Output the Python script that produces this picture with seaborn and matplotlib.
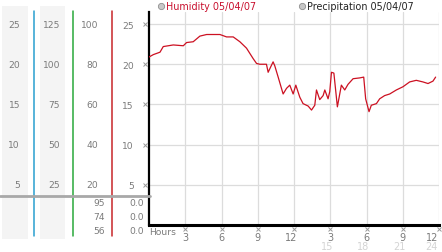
import matplotlib
matplotlib.use("Agg")
import matplotlib.pyplot as plt
from matplotlib.patches import Rectangle
from matplotlib.lines import Line2D
from matplotlib.transforms import ScaledTranslation
import seaborn as sns
import pandas as pd

# ---------------- data ----------------
hours = [0.0, 0.36, 0.91, 1.18, 2.01, 2.84, 3.11, 3.66, 4.21, 4.77, 5.87, 6.42, 6.97,
         7.52, 8.07, 8.62, 8.9, 9.17, 9.72, 9.86, 10.27, 10.41, 10.69, 11.1, 11.38,
         11.65, 11.93, 12.15, 12.48, 12.75, 13.17, 13.45, 13.72, 13.86, 14.13, 14.41,
         14.55, 14.82, 14.96, 15.1, 15.3, 15.59, 15.92, 16.2, 16.47, 16.89, 17.44,
         17.77, 17.93, 18.21, 18.4, 18.82, 19.09, 19.5, 19.92, 20.47, 21.02, 21.57,
         22.12, 22.67, 23.09, 23.5, 23.72]
humidity = [20.9, 21.2, 21.5, 22.2, 22.4, 22.3, 22.7, 22.8, 23.5, 23.7, 23.7, 23.4, 23.4,
            22.8, 22.0, 20.7, 20.1, 20.0, 20.0, 19.0, 20.3, 19.8, 18.4, 16.3, 17.0,
            17.4, 16.3, 17.4, 15.9, 15.1, 14.8, 14.3, 14.9, 16.8, 15.6, 16.1,
            16.8, 15.7, 16.6, 19.0, 18.9, 14.7, 17.4, 16.8, 17.5, 18.2, 18.3,
            18.4, 15.7, 14.1, 14.9, 15.1, 15.7, 16.1, 16.3, 16.8, 17.2, 17.8,
            18.0, 17.8, 17.6, 17.9, 18.4]

y_ticks = [5, 10, 15, 20, 25]
col1_labels = ["5", "10", "15", "20", "25"]
col2_labels = ["25", "50", "75", "100", "125"]
col3_labels = ["20", "40", "60", "80", "100"]
col4_labels = ["5", "10", "15", "20", "25"]
x_ticks = [3, 6, 9, 12, 15, 18, 21, 24]
x_labels = ["3", "6", "9", "12", "3", "6", "9", "12"]
x_labels2 = ["", "", "", "", "15", "18", "21", "24"]
stats_left = ["95", "74", "56"]
stats_right = ["0.0", "0.0", "0.0"]
legend_items = ["Humidity 05/04/07", "Precipitation 05/04/07"]

# ---------------- style ----------------
sns.set_style("white")
plt.rcParams['font.family'] = ['DejaVu Sans']
W, H = 442, 253
LBL = "#7a7a7a"
FS = 6.6

def fx(px):
    return px / W

def fy(py):
    return 1 - py / H

fig = plt.figure(figsize=(W / 100, H / 100), dpi=100)
fig.patch.set_facecolor("white")

ax_left, ax_right, ax_top, ax_bot = 149, 439, 13, 226
ax = fig.add_axes([fx(ax_left), fy(ax_bot), (ax_right - ax_left) / W, (ax_bot - ax_top) / H])
ax.set_facecolor("white")
ax.set_zorder(1)

def axx(px):
    return (px - ax_left) / (ax_right - ax_left)

# left gray columns and coloured separators
for x0, x1 in [(2, 28), (40, 65)]:
    fig.patches.append(Rectangle((fx(x0), fy(240)), (x1 - x0) / W, (240 - 7) / H,
                                 transform=fig.transFigure, facecolor="#f4f4f4",
                                 edgecolor="none", zorder=-2))
for xp, c in [(33.5, "#2a9fd0"), (72.5, "#2aa83a"), (111.5, "#c8262a")]:
    fig.lines.append(Line2D([fx(xp), fx(xp)], [fy(12), fy(237)], transform=fig.transFigure,
                            color=c, lw=1.1, zorder=-1))
fig.lines.append(Line2D([fx(0), fx(150)], [fy(197), fy(197)], transform=fig.transFigure,
                        color="#a8a8a8", lw=2.0, zorder=2))

# main chart
for v in y_ticks:
    ax.axhline(v, color="#dcdcdc", lw=0.9, zorder=0)
for h in x_ticks:
    ax.axvline(h, color="#dcdcdc", lw=0.9, zorder=0)

df = pd.DataFrame({"Hours": hours, "Humidity": humidity})
sns.lineplot(data=df, x="Hours", y="Humidity", ax=ax, color="#cc1122", lw=0.9, zorder=3)

ax.set_xlim(0, 24)
ax.set_ylim(0, 26.5)
ax.set_xlabel("")
ax.set_ylabel("")
for s in ["top", "right"]:
    ax.spines[s].set_visible(False)
ax.spines["left"].set_color("black")
ax.spines["left"].set_linewidth(1.6)
ax.spines["bottom"].set_color("black")
ax.spines["bottom"].set_linewidth(2.2)

ax.set_yticks(y_ticks)
ax.set_yticklabels(col4_labels)
ax.set_xticks(x_ticks)
ax.set_xticklabels([])
ax.tick_params(axis="y", length=0, pad=11, labelsize=FS, labelcolor=LBL)
ax.tick_params(axis="x", length=0)

ytr = ax.get_yaxis_transform()
xtr = ax.get_xaxis_transform()
# tiny tick marks
for v in y_ticks:
    ax.plot([axx(145)], [v], marker="x", ms=2.2, mew=0.7, color="#9a9a9a",
            transform=ytr, clip_on=False)
for h in x_ticks:
    ax.plot([h], [-0.02], marker="x", ms=2.2, mew=0.7, color="#9a9a9a",
            transform=xtr, clip_on=False)
# hour labels (two rows)
for i, (h, t, t2) in enumerate(zip(x_ticks, x_labels, x_labels2)):
    dx = 3 if i < len(x_ticks) - 1 else -1
    off = ScaledTranslation(dx / 100, 0, fig.dpi_scale_trans)
    ax.text(h, -0.055, t, transform=xtr + off, ha="right", va="center",
            fontsize=FS + 0.4, color=LBL, clip_on=False)
    if t2:
        ax.text(h, -0.098, t2, transform=xtr + off, ha="right", va="center",
                fontsize=FS + 0.4, color="#d4d4d4", clip_on=False)
ax.text(axx(154), -0.03, "Hours", transform=xtr, ha="left", va="center",
        fontsize=FS, color=LBL, clip_on=False)

# extra scale columns on the left
for v, a, b, c in zip(y_ticks, col1_labels, col2_labels, col3_labels):
    ax.text(axx(20), v, a, transform=ytr, ha="right", va="center", fontsize=FS, color=LBL, clip_on=False)
    ax.text(axx(60), v, b, transform=ytr, ha="right", va="center", fontsize=FS, color=LBL, clip_on=False)
    ax.text(axx(98), v, c, transform=ytr, ha="right", va="center", fontsize=FS, color=LBL, clip_on=False)

# stats below the gray line
for i, (a, b) in enumerate(zip(stats_left, stats_right)):
    yp = 204 + 14 * i
    fig.text(fx(105), fy(yp), a, ha="right", va="center", fontsize=FS, color=LBL)
    fig.text(fx(144), fy(yp), b, ha="right", va="center", fontsize=FS, color=LBL)

# legend
for xc, txt, col in [(160.5, legend_items[0], "#c8102e"), (302, legend_items[1], "#222222")]:
    fig.lines.append(Line2D([fx(xc)], [fy(7)], transform=fig.transFigure, marker="o",
                            ms=4.5, mfc="#c8c8c8", mec="#909090", mew=0.6, lw=0))
    fig.text(fx(xc + 5), fy(7), txt, ha="left", va="center", fontsize=6.9, color=col)

fig.savefig("out.png", dpi=100)
